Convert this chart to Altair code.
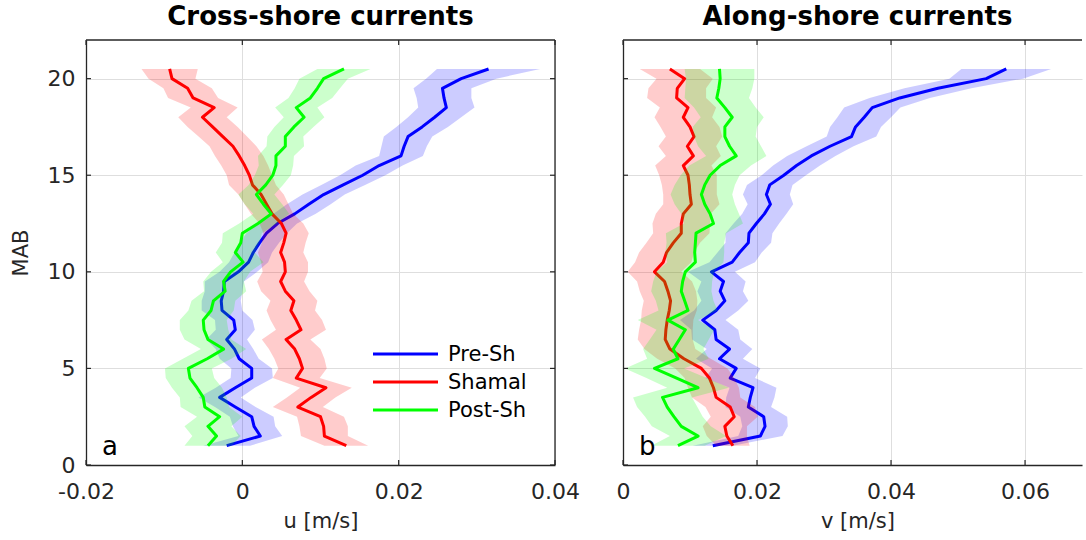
import altair as alt
import pandas as pd

# ---------------- data ----------------
MAB = [1.0, 1.5, 2.0, 2.5, 3.0, 3.5, 4.0, 4.5, 5.0, 5.5,
       6.0, 6.5, 7.0, 7.5, 8.0, 8.5, 9.0, 9.5, 10.0, 10.5,
       11.0, 11.5, 12.0, 12.5, 13.0, 13.5, 14.0, 14.5, 15.0, 15.5,
       16.0, 16.5, 17.0, 17.5, 18.0, 18.5, 19.0, 19.5, 20.0, 20.5]

SERIES = ["Pre-Sh", "Shamal", "Post-Sh"]
COLORS = ["#0000ff", "#ff0000", "#00ff00"]

# cross-shore u [m/s]
U_PRE = [-0.0020, 0.0023, 0.0015, 0.0012, -0.0009, -0.0029, -0.0009, 0.0012, 0.0012, -0.0004,
         -0.0010, -0.0020, -0.0009, -0.0011, -0.0026, -0.0027, -0.0024, -0.0023, -0.0005, 0.0008,
         0.0014, 0.0022, 0.0031, 0.0045, 0.0067, 0.0085, 0.0104, 0.0129, 0.0154, 0.0175,
         0.0203, 0.0207, 0.0212, 0.0230, 0.0246, 0.0261, 0.0258, 0.0256, 0.0280, 0.0315]
U_SHA = [0.0133, 0.0105, 0.0104, 0.0100, 0.0071, 0.0088, 0.0107, 0.0069, 0.0077, 0.0073,
         0.0067, 0.0056, 0.0075, 0.0069, 0.0062, 0.0066, 0.0055, 0.0049, 0.0055, 0.0054,
         0.0049, 0.0053, 0.0056, 0.0050, 0.0038, 0.0031, 0.0024, 0.0013, 0.0009, 0.0003,
         -0.0004, -0.0012, -0.0025, -0.0038, -0.0051, -0.0036, -0.0063, -0.0070, -0.0090, -0.0093]
U_POST = [-0.0044, -0.0033, -0.0044, -0.0029, -0.0048, -0.0050, -0.0058, -0.0067, -0.0069, -0.0045,
          -0.0024, -0.0044, -0.0049, -0.0050, -0.0040, -0.0037, -0.0022, -0.0024, -0.0015, 0.0001,
          -0.0009, -0.0002, 0.0000, 0.0020, 0.0037, 0.0027, 0.0018, 0.0030, 0.0039, 0.0043,
          0.0043, 0.0055, 0.0055, 0.0066, 0.0079, 0.0069, 0.0087, 0.0096, 0.0104, 0.0130]

U_PRE_SD = [0.0030, 0.0028, 0.0027, 0.0028, 0.0026, 0.0027, 0.0025, 0.0027, 0.0026, 0.0025,
            0.0024, 0.0026, 0.0025, 0.0024, 0.0026, 0.0025, 0.0024, 0.0025, 0.0024, 0.0025,
            0.0024, 0.0025, 0.0026, 0.0025, 0.0027, 0.0028, 0.0027, 0.0028, 0.0029, 0.0030,
            0.0028, 0.0029, 0.0031, 0.0033, 0.0034, 0.0036, 0.0035, 0.0037, 0.0045, 0.0066]
U_SHA_SD = [0.0028, 0.0030, 0.0031, 0.0030, 0.0032, 0.0031, 0.0033, 0.0030, 0.0031, 0.0032,
            0.0033, 0.0031, 0.0032, 0.0033, 0.0031, 0.0030, 0.0031, 0.0030, 0.0029, 0.0030,
            0.0029, 0.0028, 0.0029, 0.0028, 0.0027, 0.0028, 0.0029, 0.0030, 0.0029, 0.0030,
            0.0031, 0.0030, 0.0031, 0.0032, 0.0031, 0.0030, 0.0032, 0.0031, 0.0030, 0.0036]
U_POST_SD = [0.0030, 0.0031, 0.0030, 0.0029, 0.0031, 0.0030, 0.0032, 0.0031, 0.0030, 0.0031,
             0.0029, 0.0030, 0.0031, 0.0030, 0.0029, 0.0028, 0.0027, 0.0026, 0.0025, 0.0026,
             0.0025, 0.0024, 0.0025, 0.0024, 0.0023, 0.0024, 0.0023, 0.0022, 0.0023, 0.0022,
             0.0023, 0.0024, 0.0023, 0.0025, 0.0026, 0.0027, 0.0028, 0.0029, 0.0031, 0.0034]

# along-shore v [m/s]
V_PRE = [0.0134, 0.0205, 0.0212, 0.0210, 0.0187, 0.0190, 0.0194, 0.0160, 0.0169, 0.0144,
         0.0159, 0.0139, 0.0137, 0.0119, 0.0139, 0.0152, 0.0145, 0.0150, 0.0132, 0.0163,
         0.0174, 0.0187, 0.0188, 0.0199, 0.0211, 0.0220, 0.0214, 0.0219, 0.0240, 0.0259,
         0.0281, 0.0309, 0.0341, 0.0347, 0.0360, 0.0372, 0.0413, 0.0470, 0.0542, 0.0572]
V_SHA = [0.0164, 0.0155, 0.0152, 0.0166, 0.0160, 0.0139, 0.0135, 0.0129, 0.0117, 0.0091,
         0.0070, 0.0063, 0.0064, 0.0066, 0.0069, 0.0071, 0.0067, 0.0062, 0.0047, 0.0060,
         0.0065, 0.0075, 0.0087, 0.0087, 0.0090, 0.0102, 0.0100, 0.0099, 0.0097, 0.0090,
         0.0105, 0.0096, 0.0106, 0.0100, 0.0090, 0.0097, 0.0080, 0.0081, 0.0092, 0.0070]
V_POST = [0.0082, 0.0112, 0.0087, 0.0076, 0.0066, 0.0059, 0.0112, 0.0080, 0.0047, 0.0082,
          0.0075, 0.0084, 0.0093, 0.0067, 0.0097, 0.0092, 0.0087, 0.0089, 0.0093, 0.0108,
          0.0107, 0.0108, 0.0109, 0.0135, 0.0130, 0.0122, 0.0117, 0.0122, 0.0130, 0.0145,
          0.0169, 0.0159, 0.0152, 0.0152, 0.0163, 0.0152, 0.0140, 0.0143, 0.0145, 0.0144]

V_PRE_SD = [0.0030, 0.0033, 0.0034, 0.0035, 0.0034, 0.0036, 0.0035, 0.0037, 0.0036, 0.0035,
            0.0034, 0.0036, 0.0035, 0.0034, 0.0033, 0.0035, 0.0034, 0.0033, 0.0035, 0.0034,
            0.0033, 0.0034, 0.0035, 0.0034, 0.0033, 0.0034, 0.0035, 0.0034, 0.0033, 0.0035,
            0.0036, 0.0035, 0.0037, 0.0038, 0.0040, 0.0042, 0.0045, 0.0050, 0.0055, 0.0067]
V_SHA_SD = [0.0025, 0.0030, 0.0033, 0.0035, 0.0037, 0.0036, 0.0038, 0.0037, 0.0039, 0.0040,
            0.0038, 0.0041, 0.0040, 0.0039, 0.0041, 0.0040, 0.0042, 0.0041, 0.0040, 0.0042,
            0.0041, 0.0040, 0.0042, 0.0043, 0.0041, 0.0042, 0.0040, 0.0041, 0.0043, 0.0042,
            0.0041, 0.0043, 0.0042, 0.0044, 0.0043, 0.0042, 0.0044, 0.0043, 0.0042, 0.0045]
V_POST_SD = [0.0040, 0.0042, 0.0044, 0.0043, 0.0045, 0.0044, 0.0046, 0.0045, 0.0044, 0.0046,
             0.0045, 0.0044, 0.0043, 0.0045, 0.0044, 0.0043, 0.0045, 0.0044, 0.0043, 0.0042,
             0.0044, 0.0043, 0.0045, 0.0044, 0.0043, 0.0045, 0.0046, 0.0045, 0.0044, 0.0046,
             0.0045, 0.0047, 0.0046, 0.0048, 0.0047, 0.0046, 0.0048, 0.0050, 0.0051, 0.0052]

Y_TICKS = [0, 5, 10, 15, 20]
U_TICKS = [-0.02, 0, 0.02, 0.04]
V_TICKS = [0, 0.02, 0.04, 0.06]

# ---------------- styling / layout ----------------
FONT = "DejaVu Sans"
TXT = "#262626"
GRID = "#dedede"
W_L, W_R, H = 469, 459, 425
TL = 5  # inward tick length (px)
LW = 3.0

LABEL_EXPR = ("datum.value == 0 ? '0' : (datum.value < 0 ? '-' + format(-datum.value, '.2f') "
              ": format(datum.value, '.2f'))")


def build_df(means, sds):
    rows = []
    for s, m, sd in zip(SERIES, means, sds):
        for z, v, e in zip(MAB, m, sd):
            rows.append({"series": s, "mab": z, "val": v, "lo": v - e, "hi": v + e})
    return pd.DataFrame(rows)


def panel(df, xdom, xticks, xtitle, title, show_y, letter, width, legend, right_border,
          title_dx, xtitle_x):
    xs = alt.Scale(domain=xdom, nice=False, zero=False)
    ys = alt.Scale(domain=[0, 22], nice=False, zero=False)
    xaxis = alt.Axis(values=xticks, labelExpr=LABEL_EXPR, title=xtitle, grid=True,
                     gridColor=GRID, gridWidth=1, ticks=False, domain=True,
                     domainColor=TXT, domainWidth=1.3, labelFontSize=22, labelFont=FONT,
                     labelColor=TXT, labelPadding=16, labelFlush=False,
                     titleFontSize=21, titleFont=FONT, titleFontWeight="normal",
                     titleColor=TXT, titlePadding=8, titleX=xtitle_x)
    if show_y:
        yaxis = alt.Axis(values=Y_TICKS, title="MAB", grid=True, gridColor=GRID, gridWidth=1,
                         ticks=False, domain=True, domainColor=TXT, domainWidth=1.3,
                         labelFontSize=22, labelFont=FONT, labelColor=TXT, labelPadding=11,
                         labelFlush=False, titleFontSize=21, titleFont=FONT,
                         titleFontWeight="normal", titleColor=TXT, titlePadding=16)
    else:
        yaxis = alt.Axis(values=Y_TICKS, title=None, labels=False, grid=True, gridColor=GRID,
                         gridWidth=1, ticks=False, domain=True, domainColor=TXT,
                         domainWidth=1.3)

    def X(f):
        return alt.X(f, type="quantitative", scale=xs, axis=xaxis)

    def Y(f):
        return alt.Y(f, type="quantitative", scale=ys, axis=yaxis)

    base = alt.Chart(df)
    layers = []
    for s, c in zip(SERIES, COLORS):
        sub = base.transform_filter(alt.datum.series == s)
        layers.append(sub.mark_area(orient="horizontal", color=c, opacity=0.2).encode(
            y=Y("mab"), x=X("lo"), x2="hi"))
        layers.append(sub.mark_line(color=c, strokeWidth=LW, strokeJoin="round").encode(
            y=Y("mab"), x=X("val"), order=alt.Order("mab:Q")))

    # inward ticks
    xt = alt.Chart(pd.DataFrame({"t": xticks}))
    yt = alt.Chart(pd.DataFrame({"t": Y_TICKS}))
    layers.append(xt.mark_rule(color=TXT, strokeWidth=1.2).encode(
        x=X("t"), y=alt.value(H), y2=alt.value(H - TL)))
    layers.append(xt.mark_rule(color=TXT, strokeWidth=1.2).encode(
        x=X("t"), y=alt.value(0), y2=alt.value(TL)))
    layers.append(yt.mark_rule(color=TXT, strokeWidth=1.2).encode(
        y=Y("t"), x=alt.value(0), x2=alt.value(TL)))
    one = alt.Chart(pd.DataFrame({"k": [0]}))
    # top border
    layers.append(one.mark_rule(color=TXT, strokeWidth=1.3).encode(
        x=alt.value(0), x2=alt.value(width), y=alt.value(0)))
    if right_border:
        layers.append(yt.mark_rule(color=TXT, strokeWidth=1.2).encode(
            y=Y("t"), x=alt.value(width), x2=alt.value(width - TL)))
        layers.append(one.mark_rule(color=TXT, strokeWidth=1.3).encode(
            x=alt.value(width), y=alt.value(0), y2=alt.value(H)))

    # panel letter
    layers.append(alt.Chart(pd.DataFrame({"txt": [letter]})).mark_text(
        align="left", baseline="alphabetic", fontSize=26, font=FONT, color="#000000").encode(
        x=alt.value(16), y=alt.value(H - 10), text="txt:N"))

    if legend:
        for i, (s, c) in enumerate(zip(SERIES, COLORS)):
            d = alt.Chart(pd.DataFrame({"series": [s]}))
            yy = 314 + 28 * i
            layers.append(d.mark_rule(color=c, strokeWidth=LW).encode(
                x=alt.value(287), x2=alt.value(352), y=alt.value(yy)))
            layers.append(d.mark_text(align="left", baseline="middle", fontSize=21,
                                      font=FONT, color="#000000").encode(
                x=alt.value(362), y=alt.value(yy + 1), text="series:N"))

    return alt.layer(*layers).properties(
        width=width, height=H,
        title=alt.TitleParams(title, fontSize=26, fontWeight="bold", font=FONT,
                              color="#000000", offset=9, anchor="middle", dx=title_dx))


df_u = build_df([U_PRE, U_SHA, U_POST], [U_PRE_SD, U_SHA_SD, U_POST_SD])
df_v = build_df([V_PRE, V_SHA, V_POST], [V_PRE_SD, V_SHA_SD, V_POST_SD])

left = panel(df_u, [-0.02, 0.04], U_TICKS, "u [m/s]", "Cross-shore currents", True, "a",
             W_L, True, True, 0, W_L / 2)
right = panel(df_v, [0, 0.0685], V_TICKS, "v [m/s]", "Along-shore currents", False, "b",
              W_R, False, False, 5, 234.5)

chart = alt.hconcat(left, right, spacing=68, bounds="flush").configure(
    padding={"left": 10, "top": 4, "right": 0, "bottom": 2},
    background="#ffffff",
).configure_view(stroke=None)

chart.save("out.html", embed_options={"renderer": "svg", "actions": False})
